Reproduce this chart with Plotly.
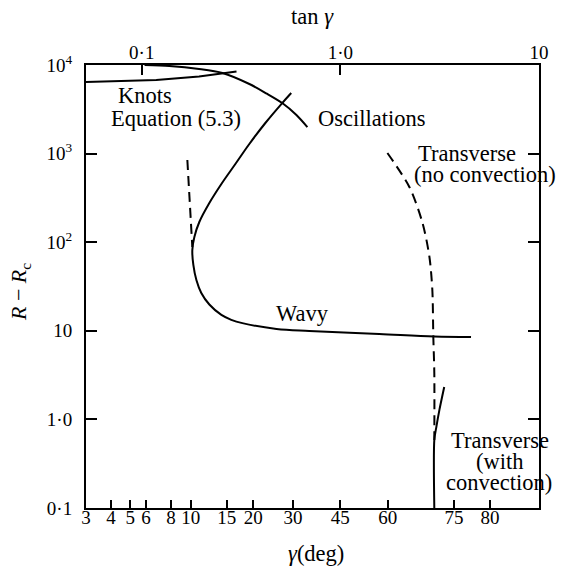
import numpy as np
import plotly.graph_objects as go

# ---- data (gamma in degrees, R - Rc) ----
knots_g = [3.0, 6.75, 11.0, 16.7]
knots_r = [6430, 6770, 7420, 8450]

osc_g = [5.9, 7.84, 11.0, 14.3, 19.2, 23.0, 27.0, 31.0, 34.3]
osc_r = [10000, 9750, 9010, 8120, 6100, 4770, 3720, 2730, 1995]

wavy_g = [29.5, 27.0, 22.74, 19.19, 16.49, 14.13, 12.35, 11.03, 10.43, 10.19,
          10.31, 10.67, 11.28, 12.35, 14.13, 15.77, 17.8, 25.5, 34.9, 57.5, 71.4, 77.6]
wavy_r = [4830, 3720, 2215, 1283, 763, 454, 277, 169, 114.5, 81.6,
          55.3, 37.4, 26.7, 19.8, 15.1, 13.3, 12.2, 10.5, 9.95, 9.2, 8.62, 8.51]

left_dash_g = [9.63, 9.86, 10.19]
left_dash_r = [847, 299, 88.3]

trans_nc_g = [59.9, 65.8, 68.9, 70.4, 71.0, 71.2, 71.4, 71.4]
trans_nc_r = [1016, 420, 165, 68.1, 28.9, 8.51, 3.34, 0.586]

trans_c_g = [73.3, 72.4, 71.8, 71.4, 71.4]
trans_c_r = [2.32, 1.28, 0.82, 0.586, 0.1]

gamma_ticks = [3, 4, 5, 6, 8, 10, 15, 20, 30, 45, 60, 75, 80]
gamma_labels = ["3", "4", "5", "6", "8", "10", "15", "20", "30", "45", "60", "75", "80"]
tan_ticks = [0.1, 1.0, 10]
tan_labels = ["0·1", "1·0", "10"]
r_ticks = [0.1, 1, 10, 100, 1000, 10000]
r_labels = ["0·1", "1·0", "10", "10<sup>2</sup>", "10<sup>3</sup>", "10<sup>4</sup>"]


def tg(g):
    return np.tan(np.radians(np.asarray(g, dtype=float)))


FONT = "Liberation Serif"
fig = go.Figure()

solid = dict(color="black", width=2)
dashed = dict(color="black", width=2, dash="10px,6px")

fig.add_trace(go.Scatter(x=tg(knots_g), y=knots_r, mode="lines", line=solid))
fig.add_trace(go.Scatter(x=tg(osc_g), y=osc_r, mode="lines",
                         line=dict(shape="spline", smoothing=0.8, **solid)))
fig.add_trace(go.Scatter(x=tg(wavy_g), y=wavy_r, mode="lines",
                         line=dict(shape="spline", smoothing=1.0, **solid)))
fig.add_trace(go.Scatter(x=tg(left_dash_g), y=left_dash_r, mode="lines", line=dashed))
fig.add_trace(go.Scatter(x=tg(trans_nc_g), y=trans_nc_r, mode="lines",
                         line=dict(shape="spline", smoothing=0.8, **dashed)))
fig.add_trace(go.Scatter(x=tg(trans_c_g), y=trans_c_r, mode="lines",
                         line=dict(shape="spline", smoothing=0.8, **solid)))
# invisible trace to attach the top (tan gamma) axis
fig.add_trace(go.Scatter(x=tan_ticks, y=[1, 1, 1], xaxis="x2", mode="markers",
                         marker=dict(opacity=0), hoverinfo="skip"))

xr = [float(np.log10(np.tan(np.radians(3)))), 1.0]
tickfont = dict(family=FONT, size=19, color="black")

fig.update_layout(
    width=561, height=567,
    margin=dict(l=86, r=22, t=65, b=59, pad=0),
    paper_bgcolor="white", plot_bgcolor="white",
    showlegend=False,
    xaxis=dict(type="log", range=xr, tickvals=list(tg(gamma_ticks)), ticktext=gamma_labels,
               ticks="inside", ticklen=8, tickwidth=1.5, tickcolor="black",
               showline=True, linecolor="black", linewidth=2, showgrid=False,
               zeroline=False, tickfont=tickfont, ticklabelstandoff=-9),
    xaxis2=dict(type="log", range=xr, overlaying="x", side="top",
                tickvals=tan_ticks, ticktext=tan_labels,
                ticks="inside", ticklen=10, tickwidth=1.5, tickcolor="black",
                showline=True, linecolor="black", linewidth=2, showgrid=False,
                zeroline=False, tickfont=tickfont, ticklabelstandoff=-4),
    yaxis=dict(type="log", range=[-1, 4], tickvals=r_ticks, ticktext=r_labels,
               ticks="inside", ticklen=11, tickwidth=1.5, tickcolor="black",
               mirror="ticks", showline=True, linecolor="black", linewidth=2,
               showgrid=False, zeroline=False, tickfont=tickfont, ticklabelstandoff=8),
)

X0, X1, Y0, Y1 = 86, 539, 65, 508


def px(x, y):
    return (x - X0) / (X1 - X0), (Y1 - y) / (Y1 - Y0)


labels = [
    ("Knots", 145, 96),
    ("Equation (5.3)", 176, 118),
    ("Oscillations", 372, 118),
    ("Transverse", 467, 153),
    ("(no convection)", 485, 174),
    ("Wavy", 302, 313),
    ("Transverse", 500, 440),
    ("(with", 500, 461),
    ("convection)", 499, 482),
    ("tan <i>γ</i>", 312, 16),
    ("<i>γ</i>(deg)", 316, 553),
]
for t, x, y in labels:
    a, b = px(x, y)
    fig.add_annotation(text=t, x=a, y=b, xref="paper", yref="paper", showarrow=False,
                       xanchor="center", yanchor="middle",
                       font=dict(family=FONT, size=22.5, color="black"))

a, b = px(20, 292)
fig.add_annotation(text="<i>R</i> − <i>R</i><sub>c</sub>", x=a, y=b, xref="paper", yref="paper",
                   showarrow=False, textangle=-90, xanchor="center", yanchor="middle",
                   font=dict(family=FONT, size=22, color="black"))

fig.write_html("out.html")
